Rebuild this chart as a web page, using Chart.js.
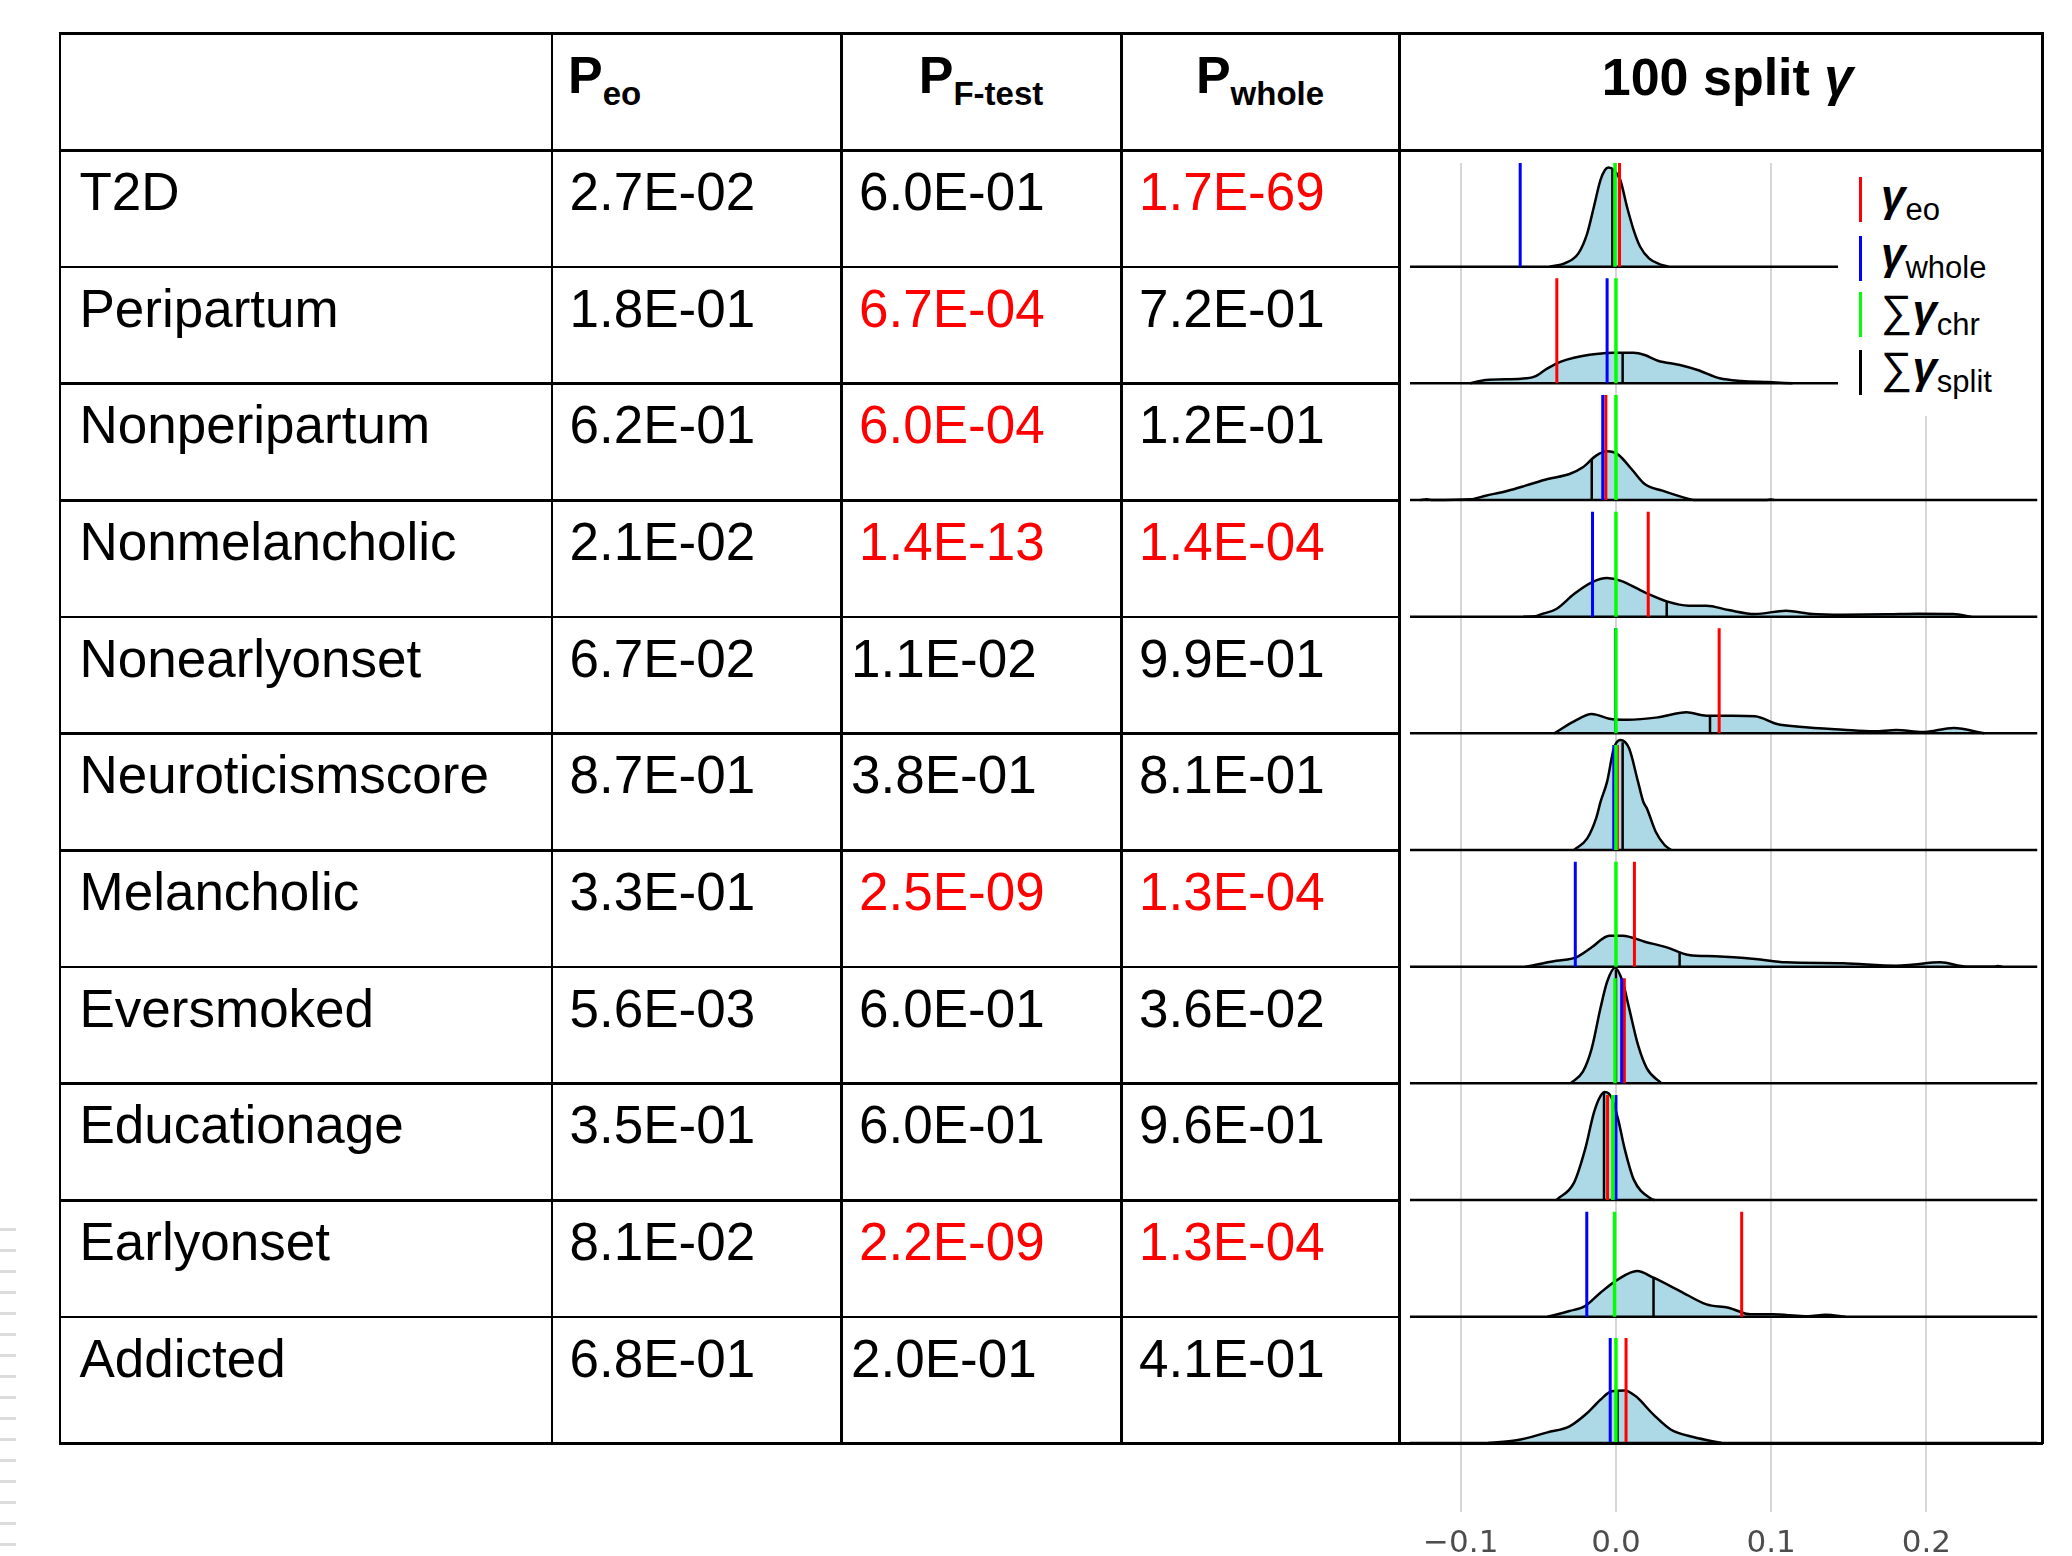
<!DOCTYPE html>
<html>
<head>
<meta charset="utf-8">
<title>100 split gamma</title>
<script src="https://cdn.jsdelivr.net/npm/chart.js"></script>
<style>
    html, body { margin: 0; padding: 0; background: #fff; }
    body {
        width: 2072px; height: 1556px; position: relative; overflow: hidden;
        font-family: "Liberation Sans", Arial, Helvetica, sans-serif;
    }
    .cell { position: absolute; font-size: 53px; line-height: 53px; white-space: nowrap; color: #000; }
    .line { position: absolute; background: #000; z-index: 3; }
    .head { position: absolute; font-weight: bold; font-size: 52px; line-height: 52px; white-space: nowrap; box-sizing: border-box; }
    .head sub { font-size: 33px; line-height: 1; vertical-align: -12px; }
    #ridge { position: absolute; left: 1399px; top: 150px; z-index: 1; }
    #legend { position: absolute; left: 1838px; top: 152px; width: 200px; height: 264px; background: #fff; z-index: 2; }
    .lbar { position: absolute; left: 21px; width: 2.5px; height: 45px; }
    .litem { position: absolute; left: 43px; font-size: 44px; line-height: 44px; white-space: nowrap; }
    .g { font-weight: bold; font-style: italic; }
    .ls { font-size: 31px; line-height: 1; vertical-align: -9px; }
    #edge { position: absolute; left: 0; top: 1228px; width: 16px; height: 322px;
            background: repeating-linear-gradient(to bottom, #dcdcdc 0 3px, transparent 3px 21px); }
</style>
</head>
<body>
    <div class="head" style="left:568px;top:49px">P<sub>eo</sub></div>
    <div class="head" style="left:841px;width:280px;text-align:center;top:49px">P<sub>F-test</sub></div>
    <div class="head" style="left:1121px;width:278px;text-align:center;top:49px">P<sub>whole</sub></div>
    <div class="head" style="left:1399px;width:643px;text-align:center;padding-left:14px;top:51px">100 split <i>γ</i></div>

    <canvas id="ridge" width="643" height="1406"></canvas>

    <div id="legend">
        <div class="lbar" style="top:25px;background:#ff0000"></div>
        <div class="lbar" style="top:84px;background:#0000ff"></div>
        <div class="lbar" style="top:140px;background:#00ff00"></div>
        <div class="lbar" style="top:198px;background:#000"></div>
        <div class="litem" style="top:22px"><span class="g">γ</span><span class="ls">eo</span></div>
        <div class="litem" style="top:80px"><span class="g">γ</span><span class="ls">whole</span></div>
        <div class="litem" style="top:137px"><span>∑</span><span class="g">γ</span><span class="ls">chr</span></div>
        <div class="litem" style="top:194px"><span>∑</span><span class="g">γ</span><span class="ls">split</span></div>
    </div>
    <div id="edge"></div>

<script>
// table values
const traits = ['T2D', 'Peripartum', 'Nonperipartum', 'Nonmelancholic', 'Nonearlyonset',
    'Neuroticismscore', 'Melancholic', 'Eversmoked', 'Educationage', 'Earlyonset', 'Addicted'];
const pEo = ['2.7E-02', '1.8E-01', '6.2E-01', '2.1E-02', '6.7E-02', '8.7E-01',
    '3.3E-01', '5.6E-03', '3.5E-01', '8.1E-02', '6.8E-01'];
const pFtest = ['6.0E-01', '6.7E-04', '6.0E-04', '1.4E-13', '1.1E-02', '3.8E-01',
    '2.5E-09', '6.0E-01', '6.0E-01', '2.2E-09', '2.0E-01'];
const pWhole = ['1.7E-69', '7.2E-01', '1.2E-01', '1.4E-04', '9.9E-01', '8.1E-01',
    '1.3E-04', '3.6E-02', '9.6E-01', '1.3E-04', '4.1E-01'];

// gamma values drawn as vertical segments
const gammaEo = [0.0023, -0.0381, -0.0065, 0.0208, 0.0665, 0.0009, 0.0119, 0.0054, -0.0054, 0.081, 0.0065];
const gammaWhole = [-0.0617, -0.0057, -0.0085, -0.0151, -0.0003, -0.0014, -0.0262, 0.0037, 0.0, -0.0188, -0.0037];
const gammaChr = [-0.0006, 0.0, 0.0, 0.0, 0.0, 0.0, 0.0, -0.0006, -0.002, -0.0009, 0.0];
const gammaSplit = [-0.0023, 0.0043, -0.0156, 0.0327, 0.0606, 0.0043, 0.041, 0.0, -0.0077, 0.0242, 0.001];

// density of the 100 split gammas, [gamma, height in rows]
const densities = [
    [[-0.0427,0],[-0.0327,0.03],[-0.0242,0.114],[-0.0185,0.286],[-0.0142,0.514],[-0.00995,0.743],[-0.0071,0.829],
     [-0.0048,0.849],[-0.0014,0.829],[0.0028,0.743],[0.0071,0.514],[0.0114,0.314],[0.0156,0.171],[0.0213,0.071],[0.0284,0.02],[0.0341,0]],
    [[-0.0938,0],[-0.0839,0.029],[-0.0611,0.04],[-0.0526,0.057],[-0.0441,0.129],[-0.0355,0.186],[-0.027,0.22],[-0.0128,0.251],
     [-0.0014,0.263],[0.0114,0.263],[0.0185,0.243],[0.027,0.194],[0.0412,0.157],[0.0526,0.114],[0.0668,0.043],[0.081,0.02],[0.0981,0.011],[0.1137,0]],
    [[-0.126,0],[-0.122,0.006],[-0.118,0],[-0.0938,0.006],[-0.0839,0.037],[-0.0697,0.08],[-0.0583,0.123],[-0.044,0.18],[-0.0299,0.223],
     [-0.0213,0.28],[-0.0128,0.38],[-0.0057,0.417],[0.0014,0.389],[0.01,0.266],[0.0185,0.137],[0.0299,0.08],[0.0469,0.009],[0.05,0],
     [0.097,0],[0.0995,0.005],[0.102,0]],
    [[-0.0597,0],[-0.052,0.004],[-0.0484,0.02],[-0.0384,0.066],[-0.027,0.194],[-0.0156,0.294],[-0.0057,0.331],[0.0028,0.309],[0.0185,0.209],
     [0.0327,0.131],[0.0469,0.094],[0.0583,0.094],[0.0725,0.057],[0.0896,0.023],[0.1095,0.051],[0.1265,0.023],[0.1464,0.017],
     [0.1749,0.02],[0.1948,0.026],[0.2175,0.023],[0.2289,0]],
    [[-0.0398,0],[-0.027,0.103],[-0.0156,0.166],[-0.0043,0.126],[0.0071,0.117],[0.027,0.137],[0.0455,0.18],[0.0583,0.151],[0.0753,0.151],
     [0.0896,0.146],[0.1038,0.08],[0.118,0.057],[0.1464,0.031],[0.1663,0.017],[0.1806,0.029],[0.1976,0.011],[0.2175,0.046],[0.2374,0]],
    [[-0.027,0],[-0.0185,0.1],[-0.0128,0.271],[-0.0099,0.414],[-0.0057,0.586],[-0.0014,0.87],[0.0028,0.943],[0.0085,0.87],
     [0.0142,0.586],[0.0176,0.414],[0.0199,0.357],[0.0256,0.157],[0.0313,0.043],[0.0355,0]],
    [[-0.0583,0],[-0.0384,0.051],[-0.0256,0.08],[-0.0156,0.166],[-0.0043,0.266],[0.0043,0.266],[0.0185,0.214],[0.0327,0.166],
     [0.0469,0.1],[0.064,0.089],[0.0896,0.066],[0.1095,0.037],[0.1464,0.029],[0.1806,0.009],[0.189,0.014],[0.209,0.037],[0.226,0],
     [0.243,0],[0.246,0.005],[0.249,0]],
    [[-0.0293,0],[-0.0213,0.1],[-0.0156,0.3],[-0.01,0.643],[-0.0057,0.871],[-0.0006,0.991],[0.0043,0.871],[0.0085,0.643],
     [0.0142,0.329],[0.0199,0.129],[0.0293,0]],
    [[-0.0384,0],[-0.027,0.149],[-0.0199,0.434],[-0.0142,0.749],[-0.01,0.891],[-0.0071,0.926],[-0.0028,0.877],[0.0014,0.691],
     [0.0057,0.434],[0.0114,0.177],[0.0227,0.011],[0.025,0]],
    [[-0.0441,0],[-0.0299,0.049],[-0.0199,0.091],[-0.01,0.206],[0.0014,0.32],[0.0136,0.391],[0.0242,0.334],[0.0412,0.22],
     [0.0583,0.106],[0.0725,0.077],[0.0867,0.02],[0.1009,0.02],[0.1166,0.009],[0.1237,0.004],[0.1351,0.017],[0.1479,0]],
    [[-0.0825,0],[-0.064,0.023],[-0.0441,0.091],[-0.0299,0.143],[-0.0185,0.257],[-0.01,0.371],[-0.0028,0.443],[0.0057,0.451],
     [0.0128,0.4],[0.0242,0.243],[0.0355,0.114],[0.0498,0.051],[0.0682,0]]
];

const xTicks = [-0.1, 0.0, 0.1, 0.2];

// ---- table layout ----
const N = traits.length;
const colX = [59.5, 551.5, 841, 1121, 1399, 2042];
const TABLE_TOP = 33.3, HEAD_BOTTOM = 150, ROW_H = 116.67, TABLE_BOTTOM = 1443;
const rowTop = r => HEAD_BOTTOM + r * ROW_H;
const ALPHA = 0.05 / N;
// a few F-test cells sit closer to the left rule in the original
const tightCells = new Set(['2:4', '2:5', '2:10']);

function addLine(x, y, w, h) {
    const d = document.createElement('div');
    d.className = 'line';
    d.style.left = x + 'px'; d.style.top = y + 'px';
    d.style.width = w + 'px'; d.style.height = h + 'px';
    document.body.appendChild(d);
}
[TABLE_TOP, HEAD_BOTTOM, TABLE_BOTTOM].forEach(y => addLine(colX[0] - 1, y - 1, colX[5] - colX[0] + 2, 2.5));
for (let r = 1; r < N; r++) addLine(colX[0] - 1, rowTop(r) - 1, colX[4] - colX[0], 2.5);
colX.forEach(x => addLine(x - 1, TABLE_TOP - 1, 2.5, TABLE_BOTTOM - TABLE_TOP + 2));

const columns = [traits, pEo, pFtest, pWhole];
const pad = [20, 18, 18, 18];
columns.forEach((col, c) => col.forEach((txt, r) => {
    const d = document.createElement('div');
    d.className = 'cell';
    d.textContent = txt;
    d.style.left = (colX[c] + (tightCells.has(c + ':' + r) ? 10 : pad[c])) + 'px';
    d.style.top = (rowTop(r) + 15) + 'px';
    if (c > 0 && parseFloat(txt) < ALPHA) d.style.color = '#ff0000';
    document.body.appendChild(d);
}));

// ---- ridge plot ----
const X_MIN = -0.1327, X_MAX = 0.2716;
const LAST_GAP = (TABLE_BOTTOM - rowTop(N - 1) - ROW_H) / ROW_H;
const base = i => (N - 1 - i) + (i < N - 1 ? LAST_GAP : 0);
const SEG = 0.9;
const AREA_TOP = 163, AREA_BOTTOM = 1512;

function heightAt(curve, x) {
    for (let k = 1; k < curve.length; k++) {
        const [x0, y0] = curve[k - 1], [x1, y1] = curve[k];
        if (x >= x0 && x <= x1) return y0 + (y1 - y0) * (x - x0) / (x1 - x0);
    }
    return 0;
}

const datasets = [];
for (let i = 0; i < N; i++) {
    const b = base(i);
    const seg = (x, top, color, width, order) => ({
        data: [{x: x, y: b}, {x: x, y: b + top}],
        borderColor: color, borderWidth: width, order: order
    });
    datasets.push({
        data: densities[i].map(p => ({x: p[0], y: b + p[1]})),
        fill: {value: b}, backgroundColor: '#add8e6', borderColor: '#000', borderWidth: 2.5,
        cubicInterpolationMode: 'monotone', order: 6
    });
    datasets.push({
        data: [{x: X_MIN, y: b}, {x: X_MAX, y: b}],
        borderColor: '#000', borderWidth: 2.5, order: 5
    });
    datasets.push(seg(gammaSplit[i], heightAt(densities[i], gammaSplit[i]), '#000', 2.5, 4));
    datasets.push(seg(gammaEo[i], SEG, '#ff0000', 3, 3));
    datasets.push(seg(gammaWhole[i], SEG, '#0000ff', 3, 2));
    datasets.push(seg(gammaChr[i], SEG, '#00ff00', 3.5, 1));
}

Chart.defaults.font.family = '"Liberation Sans", Arial, sans-serif';

new Chart(document.getElementById('ridge'), {
    type: 'line',
    data: { datasets: datasets },
    options: {
        responsive: false,
        animation: false,
        events: [],
        layout: { padding: { left: 11, right: 4.5, top: AREA_TOP - HEAD_BOTTOM, bottom: 0 } },
        elements: { point: { radius: 0 }, line: { tension: 0 } },
        plugins: { legend: { display: false }, tooltip: { enabled: false } },
        scales: {
            x: {
                type: 'linear',
                min: X_MIN,
                max: X_MAX,
                afterFit: scale => { scale.height = 1556 - AREA_BOTTOM; },
                afterBuildTicks: scale => { scale.ticks = xTicks.map(v => ({value: v})); },
                border: { display: false },
                grid: { color: '#d6d6d6', lineWidth: 2, drawTicks: false },
                ticks: {
                    padding: 13,
                    color: '#4d4d4d',
                    font: { family: '"DejaVu Sans", sans-serif', size: 31 },
                    maxRotation: 0,
                    autoSkip: false,
                    callback: v => (v < 0 ? '\u2212' : '') + Math.abs(v).toFixed(1)
                }
            },
            y: {
                type: 'linear',
                display: false,
                min: -(AREA_BOTTOM - TABLE_BOTTOM) / ROW_H,
                max: (TABLE_BOTTOM - AREA_TOP) / ROW_H
            }
        }
    }
});
</script>
</body>
</html>
